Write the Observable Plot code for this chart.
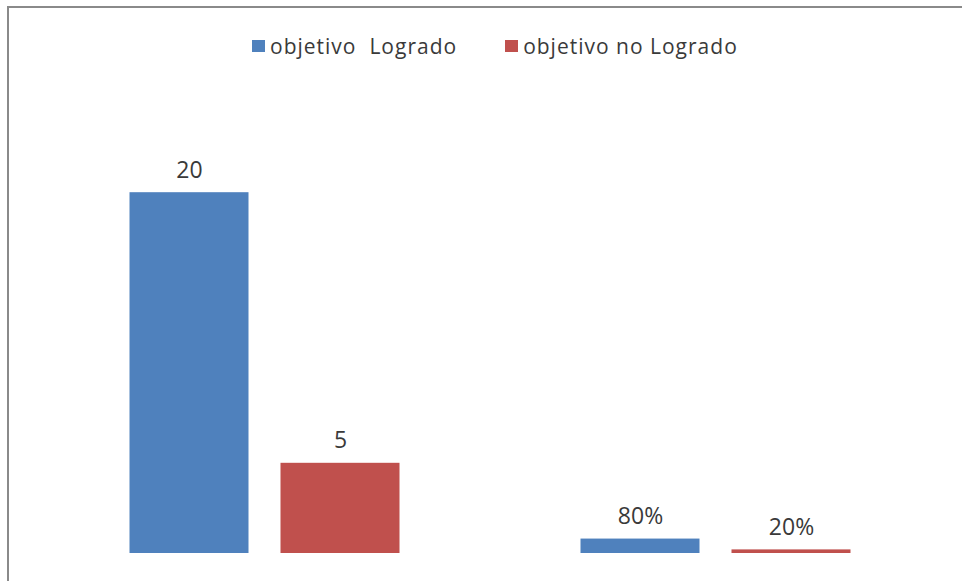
<!DOCTYPE html>
<html>
<head>
<meta charset="utf-8">
<script src="https://cdn.jsdelivr.net/npm/d3@7"></script>
<script src="https://cdn.jsdelivr.net/npm/@observablehq/plot@0.6"></script>
<style>
  html, body { margin: 0; padding: 0; background: #fff; }
  #wrap { position: relative; width: 962px; height: 581px; overflow: hidden; background: #fff; font-family: "Open Sans", sans-serif; }
  #frame { position: absolute; left: 7px; top: 6px; width: 1000px; height: 1000px; border-top: 2px solid #8a8a8a; border-left: 2px solid #8a8a8a; box-sizing: border-box; }
  #legend { position: absolute; left: 252px; top: 31px; display: flex; gap: 48px; align-items: center; font-size: 21px; letter-spacing: 1px; color: #3a3a3a; white-space: pre; line-height: 30px; }
  .item { display: flex; align-items: center; gap: 5px; }
  .sw { width: 13px; height: 12px; display: inline-block; }
  #chart { position: absolute; left: 0; top: 0; }
</style>
</head>
<body>
<div id="wrap">
  <div id="frame"></div>
  <div id="chart"></div>
  <div id="legend"></div>
</div>
<script>
const groups = ["Frecuencia", "Porcentaje"];
const series = ["objetivo  Logrado", "objetivo no Logrado"];
const colors = ["#4F81BD", "#C0504D"];
const valuesLogrado = [20, 0.8];
const valuesNoLogrado = [5, 0.2];
const labelsLogrado = ["20", "80%"];
const labelsNoLogrado = ["5", "20%"];

const data = [];
groups.forEach((g, i) => {
  data.push({group: g, serie: series[0], value: valuesLogrado[i], label: labelsLogrado[i]});
  data.push({group: g, serie: series[1], value: valuesNoLogrado[i], label: labelsNoLogrado[i]});
});

const chart = Plot.plot({
  width: 962,
  height: 581,
  marginLeft: 38.5,
  marginRight: 21.5,
  marginTop: 102,
  marginBottom: 28,
  style: {fontFamily: "Open Sans, sans-serif", background: "transparent"},
  fx: {domain: groups, padding: 0, axis: null},
  x: {domain: series, paddingInner: 0.2105, paddingOuter: 0.589, axis: null},
  y: {domain: [0, 25], axis: null},
  color: {domain: series, range: colors},
  marks: [
    Plot.barY(data, {fx: "group", x: "serie", y: "value", fill: "serie"}),
    Plot.text(data, {fx: "group", x: "serie", y: "value", text: "label", lineAnchor: "bottom", dy: -15, fontSize: 23, letterSpacing: "0.5px", fill: "#3a3a3a"})
  ]
});
document.getElementById("chart").appendChild(chart);

const legend = document.getElementById("legend");
series.forEach((s, i) => {
  const item = document.createElement("div");
  item.className = "item";
  const sw = document.createElement("span");
  sw.className = "sw";
  sw.style.background = colors[i];
  const t = document.createElement("span");
  t.textContent = s;
  item.appendChild(sw);
  item.appendChild(t);
  legend.appendChild(item);
});
</script>
</body>
</html>
